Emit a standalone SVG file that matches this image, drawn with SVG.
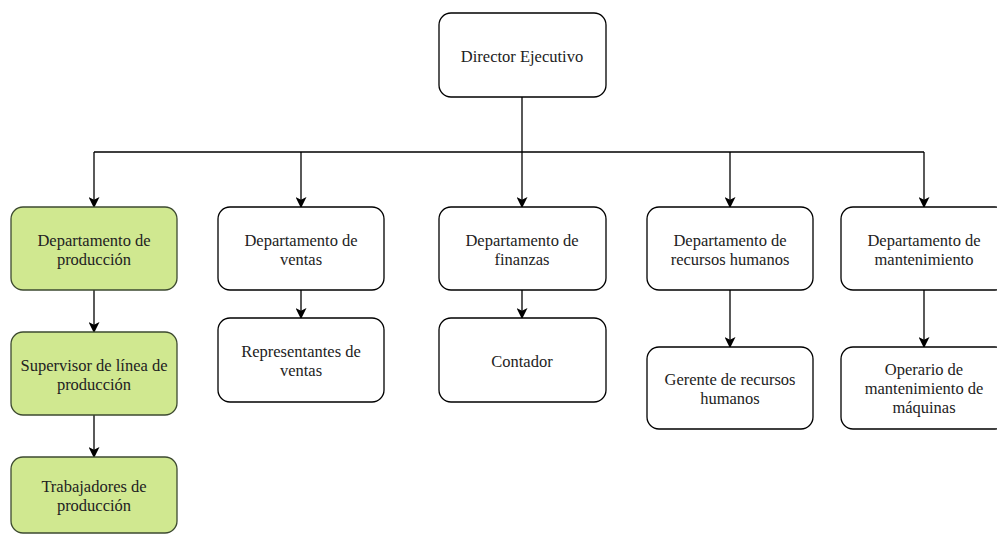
<svg xmlns="http://www.w3.org/2000/svg" width="997" height="534" viewBox="0 0 997 534" font-family="'Liberation Serif', 'Times New Roman', Times, serif">
<style>
.box{fill:#ffffff;stroke:#000000;stroke-width:1.3}
.green{fill:#d0e890;stroke:#3d4a30;stroke-width:1.3}
text{font-family:'Liberation Serif','Times New Roman',Times,serif;font-size:16.5px;fill:#222;text-anchor:middle}
.edge{fill:none;stroke:#000;stroke-width:1.3;marker-end:url(#arr)}
.line{fill:none;stroke:#000;stroke-width:1.3}
</style>
<defs>
<marker id="arr" viewBox="0 0 10 10" refX="9" refY="5" markerWidth="11" markerHeight="11" markerUnits="userSpaceOnUse" orient="auto">
<path d="M0,0 L10,5 L0,10 L2.5,5 Z" fill="#000"/>
</marker>
</defs>
<rect width="997" height="534" fill="#ffffff"/>
<g id="connectors">
<path class="line" d="M522,97 V152 M94,152 H924"/>
<path class="edge" d="M94,152 V207"/>
<path class="edge" d="M301,152 V207"/>
<path class="edge" d="M522,152 V207"/>
<path class="edge" d="M730,152 V207"/>
<path class="edge" d="M924,152 V207"/>
<path class="edge" d="M94,290 V332"/>
<path class="edge" d="M94,415 V457"/>
<path class="edge" d="M301,290 V318"/>
<path class="edge" d="M522,290 V318"/>
<path class="edge" d="M730,290 V347"/>
<path class="edge" d="M924,290 V347"/>
</g>
<g id="director">
<rect class="box" x="439" y="13" width="167" height="84" rx="12"/>
<text x="522" y="62">Director Ejecutivo</text>
</g>
<g id="produccion">
<rect class="green" x="11" y="207" width="166" height="83" rx="12"/>
<text x="94" y="246">Departamento de</text>
<text x="94" y="265">producción</text>
</g>
<g id="supervisor">
<rect class="green" x="11" y="332" width="166" height="83" rx="12"/>
<text x="94" y="371">Supervisor de línea de</text>
<text x="94" y="390">producción</text>
</g>
<g id="trabajadores">
<rect class="green" x="11" y="457" width="166" height="76" rx="12"/>
<text x="94" y="492">Trabajadores de</text>
<text x="94" y="511">producción</text>
</g>
<g id="ventas">
<rect class="box" x="218" y="207" width="166" height="83" rx="12"/>
<text x="301" y="246">Departamento de</text>
<text x="301" y="265">ventas</text>
</g>
<g id="representantes">
<rect class="box" x="218" y="318" width="166" height="84" rx="12"/>
<text x="301" y="357">Representantes de</text>
<text x="301" y="376">ventas</text>
</g>
<g id="finanzas">
<rect class="box" x="439" y="207" width="167" height="83" rx="12"/>
<text x="522" y="246">Departamento de</text>
<text x="522" y="265">finanzas</text>
</g>
<g id="contador">
<rect class="box" x="439" y="318" width="167" height="84" rx="12"/>
<text x="522" y="367">Contador</text>
</g>
<g id="rrhh">
<rect class="box" x="647" y="207" width="166" height="83" rx="12"/>
<text x="730" y="246">Departamento de</text>
<text x="730" y="265">recursos humanos</text>
</g>
<g id="gerente">
<rect class="box" x="647" y="347" width="166" height="82" rx="12"/>
<text x="730" y="385">Gerente de recursos</text>
<text x="730" y="404">humanos</text>
</g>
<g id="mantenimiento">
<rect class="box" x="841" y="207" width="166" height="83" rx="12"/>
<text x="924" y="246">Departamento de</text>
<text x="924" y="265">mantenimiento</text>
</g>
<g id="operario">
<rect class="box" x="841" y="347" width="166" height="82" rx="12"/>
<text x="924" y="375">Operario de</text>
<text x="924" y="394">mantenimiento de</text>
<text x="924" y="413">máquinas</text>
</g>
</svg>
